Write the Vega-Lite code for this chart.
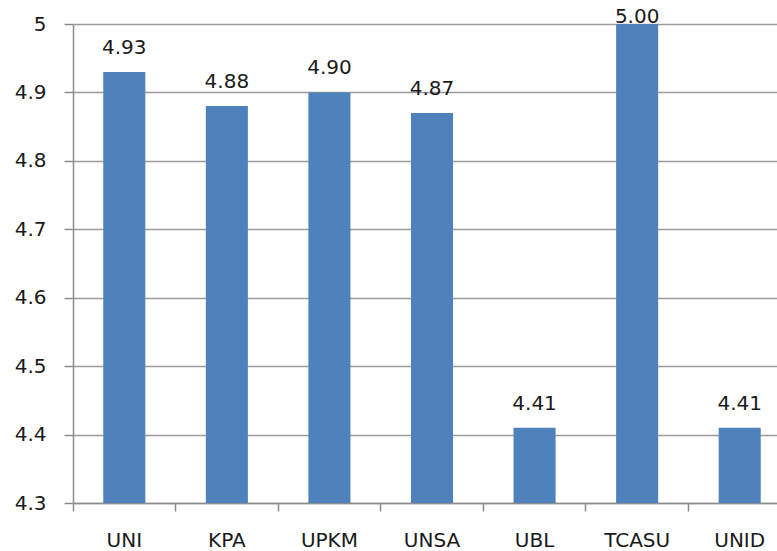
{
  "$schema": "https://vega.github.io/schema/vega-lite/v6.json",
  "autosize": {"type": "none"},
  "padding": {"left": 73, "top": 24, "right": 0, "bottom": 48},
  "width": 704,
  "height": 479,
  "background": "white",
  "config": {
    "view": {"stroke": null},
    "font": "DejaVu Sans",
    "axis": {
      "labelFont": "DejaVu Sans",
      "labelFontSize": 20,
      "labelColor": "#1a1a1a",
      "domainColor": "#8c8c8c",
      "tickColor": "#8c8c8c",
      "gridColor": "#9a9a9a",
      "domainWidth": 1.5,
      "tickWidth": 1.5,
      "gridWidth": 1.5,
      "title": null
    }
  },
  "data": {
    "values": [
      {"school": "UNI", "score": 4.93},
      {"school": "KPA", "score": 4.88},
      {"school": "UPKM", "score": 4.90},
      {"school": "UNSA", "score": 4.87},
      {"school": "UBL", "score": 4.41},
      {"school": "TCASU", "score": 5.00},
      {"school": "UNID", "score": 4.41}
    ]
  },
  "encoding": {
    "x": {
      "field": "school",
      "type": "nominal",
      "sort": null,
      "scale": {"range": [0, 718], "paddingInner": 0, "paddingOuter": 0},
      "axis": {
        "labelAngle": 0,
        "bandPosition": 0,
        "tickSize": 8,
        "labelPadding": 19,
        "grid": false,
        "labelBaseline": "top"
      }
    },
    "y": {
      "field": "score",
      "type": "quantitative",
      "scale": {"domain": [4.3, 5], "zero": false, "nice": false},
      "axis": {
        "values": [4.3, 4.4, 4.5, 4.6, 4.7, 4.8, 4.9, 5],
        "format": ".1~f",
        "tickSize": 9,
        "labelPadding": 18,
        "grid": true
      }
    }
  },
  "layer": [
    {
      "mark": {"type": "bar", "color": "#4F81BD", "width": {"band": 0.41}},
      "encoding": {"y2": {"datum": 4.3}}
    },
    {
      "transform": [{"filter": "datum.score < 5"}],
      "mark": {"type": "text", "font": "DejaVu Sans", "fontSize": 20, "color": "#1a1a1a", "baseline": "alphabetic", "dy": -18},
      "encoding": {"text": {"field": "score", "type": "quantitative", "format": ".2f"}}
    },
    {
      "transform": [{"filter": "datum.score >= 5"}],
      "mark": {"type": "text", "font": "DejaVu Sans", "fontSize": 20, "color": "#1a1a1a", "baseline": "alphabetic", "dy": -1},
      "encoding": {"text": {"field": "score", "type": "quantitative", "format": ".2f"}}
    }
  ]
}
